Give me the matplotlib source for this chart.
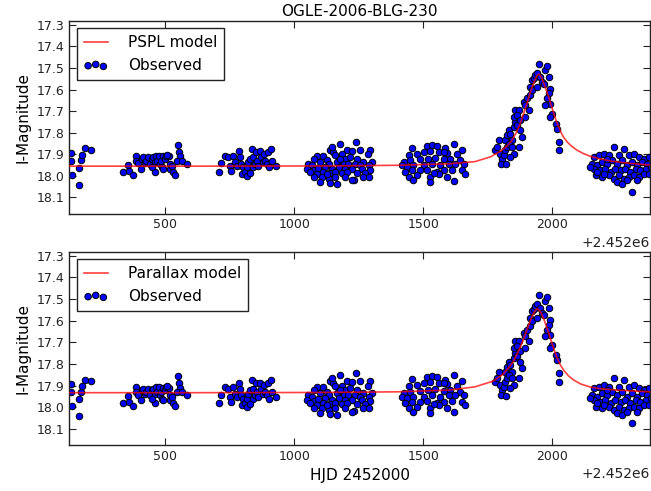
import matplotlib
matplotlib.use("Agg")
import matplotlib.pyplot as plt
from matplotlib.ticker import MultipleLocator, ScalarFormatter
import numpy as np

HJD_BASE = 2452000

# ---- observed photometry (days after HJD 2452000, I magnitude) ----
obs_days = [
    # season 1
    135, 135, 140, 166, 166, 173, 179, 189, 215,
    # season 2
    338, 355, 361, 374, 387, 389, 396, 405, 409, 415, 422, 428, 435, 441, 448, 454,
    461, 465, 470, 477, 480, 486, 493, 499, 503, 490, 462, 448, 493, 519, 521, 529,
    538, 516, 525, 549, 555, 558, 545, 564, 583, 506,
    # season 3
    709, 717, 733, 751, 745, 755, 764, 771, 780, 788, 790, 793, 797, 803, 810, 816,
    819, 823, 829, 835, 839, 842, 848, 852, 857, 861, 868, 872, 878, 883, 887, 894,
    900, 904, 909, 913, 930, 827,
    # season 4
    1240, 1178, 1139, 1152, 1204, 1223, 1256, 1294, 1284, 1087, 1075, 1113, 1126, 1159,
    1184, 1197, 1217, 1243, 1268, 1301, 1055, 1068, 1100, 1133, 1165, 1191, 1210, 1236,
    1256, 1288, 1049, 1075, 1094, 1120, 1146, 1172, 1197, 1223, 1262, 1294, 1062, 1087,
    1113, 1139, 1159, 1184, 1204, 1243, 1275, 1075, 1107, 1133, 1159, 1197, 1230, 1268,
    1288, 1100, 1139, 1165, 1223, 1126, 1178, 1146,
    # season 5
    1456, 1514, 1533, 1553, 1585, 1617, 1650, 1443, 1475, 1501, 1527, 1559, 1592, 1630,
    1424, 1449, 1488, 1520, 1546, 1579, 1605, 1643, 1417, 1436, 1462, 1501, 1533, 1566,
    1598, 1624, 1656, 1430, 1456, 1488, 1514, 1553, 1579, 1611, 1650, 1443, 1475, 1527,
    1559, 1592, 1663, 1462, 1527, 1617, 1540, 1579,
    # season 6 (event)
    1779, 1785, 1792, 1798, 1805, 1801, 1811, 1818, 1824, 1818, 1824, 1831, 1837, 1844,
    1831, 1844, 1850, 1837, 1822, 1850, 1856, 1863, 1850, 1856, 1869, 1863, 1876, 1873,
    1882, 1869, 1889, 1895, 1902, 1895, 1908, 1915, 1915, 1921, 1928, 1921, 1934, 1941,
    1947, 1941, 1953, 1960, 1966, 1973, 1979, 1986, 1992, 1986, 1979, 1990, 1999, 1992,
    2012, 2018, 2025, 2025, 1973,
    # season 7
    2160, 2180, 2199, 2218, 2238, 2257, 2277, 2296, 2315, 2335, 2354, 2373, 2154, 2173,
    2193, 2212, 2231, 2251, 2270, 2289, 2309, 2328, 2348, 2367, 2160, 2186, 2205, 2225,
    2244, 2264, 2283, 2302, 2322, 2341, 2361, 2380, 2167, 2193, 2218, 2238, 2257, 2277,
    2296, 2315, 2335, 2354, 2173, 2199, 2251, 2270, 2289, 2309, 2212, 2328, 2373, 2147,
]
obs_mag = [
    17.894, 17.931, 17.994, 18.041, 17.964, 17.928, 17.901, 17.873, 17.878,
    17.983, 17.948, 17.976, 17.994, 17.907, 17.929, 17.942, 17.968, 17.921, 17.914,
    17.940, 17.929, 17.914, 17.945, 17.921, 17.914, 17.937, 17.906, 17.929, 17.906,
    17.945, 17.929, 17.910, 17.921, 17.906, 17.960, 17.983, 17.960, 17.968, 17.945,
    17.968, 17.983, 17.994, 17.910, 17.953, 17.855, 17.890, 17.910, 17.932, 17.929,
    17.945, 17.902,
    17.983, 17.942, 17.906, 17.953, 17.914, 17.976, 17.906, 17.937, 17.953, 17.886,
    17.914, 17.945, 17.991, 17.960, 17.983, 17.999, 17.960, 17.937, 17.921, 17.875,
    17.960, 17.914, 17.945, 17.890, 17.929, 17.953, 17.886, 17.914, 17.937, 17.898,
    17.929, 17.945, 17.890, 17.960, 17.875, 17.929, 17.953, 17.985,
    17.842, 17.853, 17.881, 17.889, 17.878, 17.884, 17.881, 17.878, 17.900, 17.909,
    17.920, 17.909, 17.928, 17.904, 17.900, 17.920, 17.912, 17.920, 17.935, 17.935,
    17.943, 17.951, 17.935, 17.943, 17.935, 17.943, 17.943, 17.943, 17.951, 17.951,
    17.966, 17.971, 17.962, 17.959, 17.966, 17.959, 17.966, 17.966, 17.966, 17.971,
    17.982, 17.990, 17.982, 17.986, 17.982, 17.986, 17.982, 17.986, 17.986, 18.005,
    18.005, 18.013, 18.005, 18.005, 18.017, 18.005, 18.005, 18.028, 18.033, 18.036,
    18.021, 17.990, 17.920, 17.866,
    17.869, 17.862, 17.858, 17.862, 17.873, 17.850, 17.878, 17.904, 17.897, 17.889,
    17.884, 17.889, 17.893, 17.900, 17.935, 17.928, 17.924, 17.920, 17.915, 17.924,
    17.920, 17.928, 17.951, 17.959, 17.951, 17.951, 17.943, 17.951, 17.943, 17.946,
    17.943, 17.982, 17.974, 17.974, 17.971, 17.982, 17.974, 17.971, 17.974, 18.005,
    17.997, 18.005, 17.990, 18.005, 17.990, 18.021, 18.028, 18.024, 17.986, 17.889,
    17.882, 17.866, 17.835, 17.897, 17.920, 17.944, 17.905, 17.882, 17.866, 17.835,
    17.812, 17.789, 17.804, 17.835, 17.851, 17.866, 17.897, 17.913, 17.947, 17.773,
    17.750, 17.765, 17.727, 17.696, 17.696, 17.719, 17.742, 17.789, 17.820, 17.866,
    17.657, 17.672, 17.641, 17.727, 17.696, 17.626, 17.587, 17.556, 17.548, 17.603,
    17.533, 17.525, 17.479, 17.587, 17.541, 17.564, 17.572, 17.510, 17.491, 17.541,
    17.595, 17.618, 17.641, 17.665, 17.711, 17.727, 17.758, 17.781, 17.843, 17.882,
    17.672,
    17.913, 17.905, 17.897, 17.905, 17.866, 17.905, 17.874, 17.905, 17.897, 17.913,
    17.920, 17.913, 17.944, 17.951, 17.936, 17.944, 17.928, 17.944, 17.928, 17.951,
    17.936, 17.951, 17.936, 17.944, 17.967, 17.975, 17.967, 17.982, 17.967, 17.975,
    17.967, 17.982, 17.967, 17.975, 17.967, 17.959, 17.998, 18.006, 17.998, 18.013,
    17.998, 18.013, 18.006, 17.998, 18.006, 17.990, 17.982, 17.990, 18.029, 18.037,
    18.021, 18.075, 17.920, 18.021, 17.990, 17.959,
]

# ---- model curves ----
pspl_days = [128, 600, 1100, 1400, 1600, 1700, 1760, 1800, 1830, 1845, 1860, 1870,
             1880, 1890, 1902, 1915, 1925, 1935, 1942, 1947, 1952, 1959, 1969, 1979,
             1992, 2004, 2014, 2024, 2034, 2044, 2059, 2074, 2094, 2119, 2144, 2180,
             2230, 2300, 2378]
pspl_mag = [17.955, 17.955, 17.954, 17.951, 17.944, 17.934, 17.912, 17.885, 17.855,
            17.832, 17.800, 17.773, 17.742, 17.706, 17.660, 17.612, 17.577, 17.548,
            17.533, 17.528, 17.533, 17.548, 17.577, 17.612, 17.660, 17.706, 17.742,
            17.773, 17.800, 17.822, 17.845, 17.862, 17.880, 17.896, 17.908, 17.920,
            17.932, 17.942, 17.950]

plx_days = [128, 600, 1100, 1400, 1600, 1700, 1772, 1810, 1835, 1850, 1863, 1876,
            1889, 1902, 1912, 1921, 1930, 1936, 1940, 1945, 1952, 1960, 1970, 1979,
            1990, 1999, 2009, 2018, 2030, 2044, 2062, 2083, 2110, 2147, 2190, 2250,
            2310, 2378]
plx_mag = [17.933, 17.933, 17.932, 17.929, 17.921, 17.906, 17.879, 17.846, 17.812,
           17.785, 17.755, 17.720, 17.682, 17.641, 17.608, 17.580, 17.560, 17.549,
           17.545, 17.547, 17.556, 17.574, 17.603, 17.634, 17.674, 17.708, 17.743,
           17.772, 17.803, 17.830, 17.855, 17.875, 17.893, 17.907, 17.915, 17.921,
           17.925, 17.929]

x_limits = (128, 2378)
x_tick_step = 500
y_limits = (18.175, 17.28)
y_ticks = [17.3, 17.4, 17.5, 17.6, 17.7, 17.8, 17.9, 18.0, 18.1]

t_obs = np.array(obs_days) + HJD_BASE

fig = plt.figure(figsize=(6.51, 4.91), dpi=100)
ax1 = fig.add_axes([0.106, 0.565, 0.8925, 0.393])
ax2 = fig.add_axes([0.106, 0.0937, 0.8925, 0.394])

panels = [(ax1, pspl_days, pspl_mag, "PSPL model"),
          (ax2, plx_days, plx_mag, "Parallax model")]

for ax, mdays, mmag, mlabel in panels:
    ax.plot(np.array(mdays) + HJD_BASE, mmag, color="red", lw=1.2, alpha=0.75,
            label=mlabel, zorder=3)
    ax.scatter(t_obs, obs_mag, s=22, c="blue", edgecolors="black", linewidths=0.7,
               label="Observed", zorder=2)
    ax.set_xlim(x_limits[0] + HJD_BASE, x_limits[1] + HJD_BASE)
    ax.xaxis.set_major_locator(MultipleLocator(x_tick_step))
    fmt = ScalarFormatter(useOffset=HJD_BASE)
    ax.xaxis.set_major_formatter(fmt)
    ax.set_ylim(*y_limits)
    ax.set_yticks(y_ticks)
    ax.set_ylabel("I-Magnitude", fontsize=11)
    ax.tick_params(direction="in", top=True, right=True, length=5, width=0.8,
                   labelsize=9, colors="#222222")
    ax.xaxis.get_offset_text().set_fontsize(10)
    for sp in ax.spines.values():
        sp.set_color("#222222")
        sp.set_linewidth(1.0)
    leg = ax.legend(loc="upper left", fontsize=11, scatterpoints=3,
                    scatteryoffsets=[0.375, 0.5, 0.3125], fancybox=False,
                    framealpha=1, edgecolor="#222222", handlelength=1.6,
                    handletextpad=1.3, borderpad=0.45, labelspacing=0.5,
                    borderaxespad=0.5)
    leg.get_frame().set_linewidth(1.0)

ax1.set_title("OGLE-2006-BLG-230", fontsize=11, pad=3.5)
ax2.set_xlabel("HJD 2452000", fontsize=11)

fig.savefig("out.png", dpi=100)
